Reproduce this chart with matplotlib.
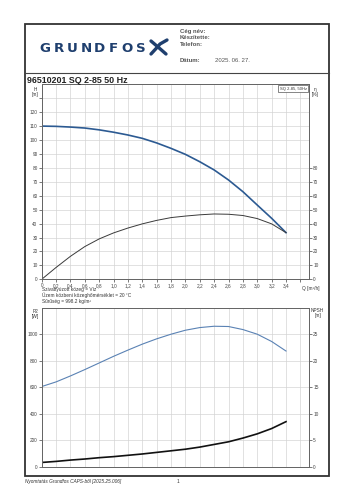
import matplotlib
matplotlib.use("Agg")
import matplotlib.pyplot as plt
from matplotlib.patches import Rectangle

plt.rcParams['font.family'] = ['Liberation Sans', 'DejaVu Sans']

# Adatok a diagramról leolvasva
q = [0, 0.2, 0.4, 0.6, 0.8, 1.0, 1.2, 1.4, 1.6, 1.8, 2.0, 2.2, 2.4, 2.6, 2.8, 3.0, 3.2, 3.4]
h_m = [110, 109.8, 109.3, 108.6, 107.3, 105.6, 103.6, 101.2, 97.9, 94.0, 89.7, 84.4, 78.5, 71.3, 62.9, 53.3, 43.8, 33.5]
eta = [0, 8.5, 16.5, 23.5, 29.0, 33.3, 36.8, 39.8, 42.3, 44.3, 45.4, 46.3, 46.9, 46.7, 45.8, 43.6, 39.8, 33.5]
p2_w = [605, 640, 685, 733, 783, 833, 880, 925, 965, 1000, 1030, 1050, 1060, 1058, 1035, 1000, 945, 873]
npsh = [0.8, 1.0, 1.25, 1.45, 1.7, 1.9, 2.15, 2.4, 2.7, 3.0, 3.3, 3.7, 4.2, 4.7, 5.4, 6.2, 7.2, 8.5]

x_ticks = [0, 0.2, 0.4, 0.6, 0.8, 1.0, 1.2, 1.4, 1.6, 1.8, 2.0, 2.2, 2.4, 2.6, 2.8, 3.0, 3.2, 3.4]
x_grid = x_ticks + [3.6]
h_ticks = [0, 10, 20, 30, 40, 50, 60, 70, 80, 90, 100, 110, 120]
eta_ticks = [0, 10, 20, 30, 40, 50, 60, 70, 80]
p2_ticks = [0, 200, 400, 600, 800, 1000]
npsh_ticks = [0, 5, 10, 15, 20, 25]

W, H = 354, 500
fig = plt.figure(figsize=(W / 100, H / 100), dpi=100)


def fx(px):
    return px / W


def fy(py):
    return 1 - py / H


# keret és fejléc
fig.patches.append(Rectangle((fx(25), fy(476)), fx(304), 452 / H, transform=fig.transFigure,
                             fill=False, lw=1.3, ec='#333333'))
fig.add_artist(plt.Line2D([fx(25), fx(329)], [fy(73), fy(73)], transform=fig.transFigure,
                          lw=0.8, color='#444444'))

logo_col = '#1f3f6e'
for i, ch in enumerate("GRUNDFOS"):
    fig.text(fx(38 + 13.7 * (i + 0.5)), fy(48), ch, ha='center', va='center', fontsize=9.6,
             fontweight='heavy', color=logo_col, family='DejaVu Sans')
# logo jel
fig.add_artist(plt.Line2D([fx(151), fx(158), fx(166)], [fy(41), fy(47), fy(54)],
                          transform=fig.transFigure, lw=2.4, color=logo_col, solid_capstyle='round'))
fig.add_artist(plt.Line2D([fx(151), fx(157), fx(160), fx(167)], [fy(54), fy(47.5), fy(44), fy(40)],
                          transform=fig.transFigure, lw=2.4, color=logo_col, solid_capstyle='round'))

for txt, yy in [("Cég név:", 31), ("Készítette:", 37.5), ("Telefon:", 44), ("Dátum:", 60)]:
    fig.text(fx(180), fy(yy), txt, fontsize=4.3, fontweight='bold', color='#555555', va='center')
fig.text(fx(215), fy(60), "2025. 06. 27.", fontsize=4.3, color='#555555', va='center')

fig.text(fx(27), fy(80.5), "96510201 SQ 2-85 50 Hz", fontsize=6.4, fontweight='bold',
         color='#222222', va='center')

# felső diagram
ax1 = fig.add_axes([fx(41.7), fy(279.3), fx(309 - 41.7), (279.3 - 84.3) / H])
ax1.set_xlim(0, 3.72)
ax1.set_ylim(0, 140)
ax1.set_xticks(x_grid)
ax1.set_xticklabels([f"{v:.1f}".replace('.', ',') if v > 0 else "0" for v in x_ticks] + [""])
ax1.set_yticks(h_ticks + [130])
ax1.set_yticklabels([str(v) for v in h_ticks] + [""])
ax1.grid(True, color='#d4d4d4', lw=0.5)
ax1.set_axisbelow(True)
ax1.plot(q, h_m, color='#2c5a92', lw=1.2)

ax1r = ax1.twinx()
ax1r.set_ylim(0, 140)
ax1r.set_yticks(eta_ticks)
ax1r.plot(q, eta, color='#3a3a3a', lw=0.7)

ax1.text(3.62, -6.5, "Q [m³/h]", fontsize=3.4, color='#333333', va='center', clip_on=False)
ax1.text(-0.09, 138, "H\n[m]", fontsize=3.4, color='#333333', ha='center', va='top',
         linespacing=1.0)
ax1r.text(3.8, 138, "η\n[%]", fontsize=3.4, color='#333333', ha='center', va='top',
          linespacing=1.0)
ax1.text(3.69, 138.3, "SQ 2-85, 50Hz", fontsize=3.0, color='#333333', ha='right', va='top',
         bbox=dict(boxstyle='square,pad=0.35', fc='white', ec='#555555', lw=0.5))

for a in (ax1, ax1r):
    a.tick_params(labelsize=3.4, length=2, width=0.5, colors='#444444', pad=1)
    for s in a.spines.values():
        s.set_color('#666666')
        s.set_linewidth(0.7)

fig.text(fx(42), fy(290), "Szivattyúzott közeg = Víz", fontsize=3.4, color='#333333', va='center')
fig.text(fx(42), fy(295.5), "Üzem közbeni közeghőmérséklet = 20 °C", fontsize=3.4,
         color='#333333', va='center')
fig.text(fx(42), fy(301), "Sűrűség = 998.2 kg/m³", fontsize=3.4, color='#333333', va='center')

# alsó diagram
ax2 = fig.add_axes([fx(41.7), fy(466.7), fx(309 - 41.7), (466.7 - 307.7) / H])
ax2.set_xlim(0, 3.72)
ax2.set_ylim(0, 1200)
ax2.set_xticks(x_grid)
ax2.set_xticklabels([])
ax2.tick_params(axis='x', length=0)
ax2.set_yticks(p2_ticks)
ax2.grid(True, color='#d4d4d4', lw=0.5)
ax2.set_axisbelow(True)
ax2.plot(q, p2_w, color='#5a82b4', lw=0.8)

ax2r = ax2.twinx()
ax2r.set_ylim(0, 30)
ax2r.set_yticks(npsh_ticks)
ax2r.plot(q, npsh, color='#111111', lw=1.2)

ax2.text(-0.09, 1190, "P2\n[W]", fontsize=3.4, color='#333333', ha='center', va='top',
         linespacing=1.0)
ax2r.text(3.84, 30, "NPSH\n[m]", fontsize=3.4, color='#333333', ha='center', va='top',
          linespacing=1.0)

for a in (ax2, ax2r):
    a.tick_params(axis='y', labelsize=3.4, length=2, width=0.5, colors='#444444', pad=1)
    for s in a.spines.values():
        s.set_color('#666666')
        s.set_linewidth(0.7)

fig.text(fx(25), fy(481.5), "Nyomtatás Grundfos CAPS-ből [2025.25.006]", fontsize=3.4,
         style='italic', color='#333333', va='center')
fig.text(fx(177), fy(481.5), "1", fontsize=3.4, color='#333333', va='center')

fig.savefig("out.png", dpi=100)
